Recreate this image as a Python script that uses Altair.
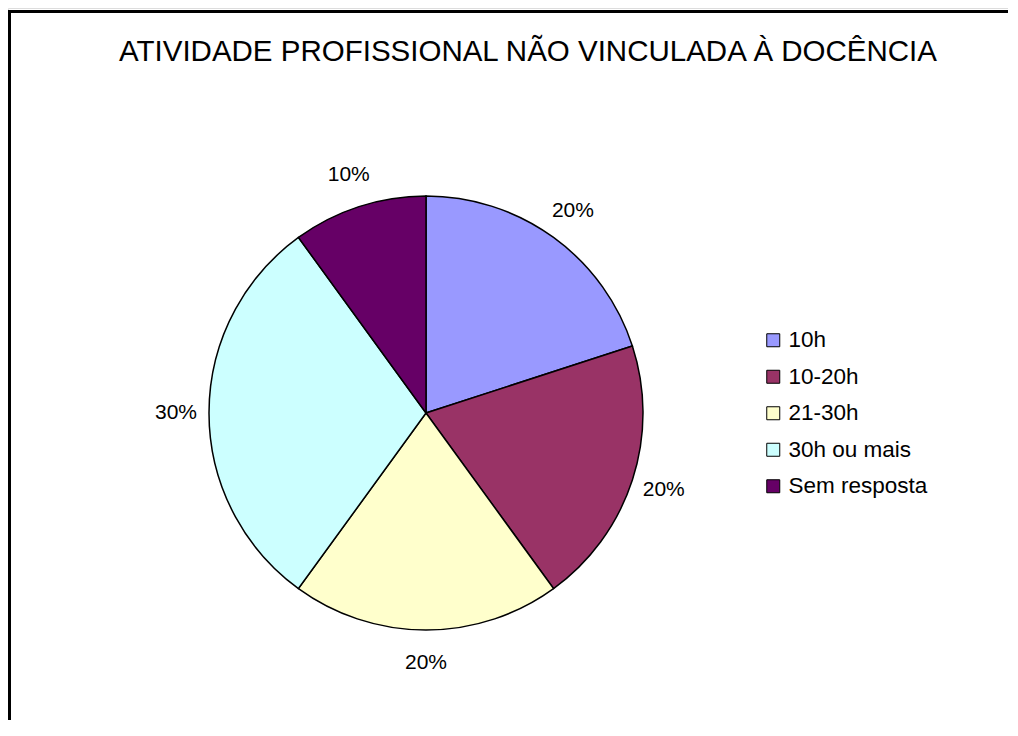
import altair as alt
import pandas as pd

categories = ["10h", "10-20h", "21-30h", "30h ou mais", "Sem resposta"]
values = [20, 20, 20, 30, 10]
colors = ["#9999FF", "#993366", "#FFFFCC", "#CCFFFF", "#660066"]
title_text = "ATIVIDADE PROFISSIONAL NÃO VINCULADA À DOCÊNCIA"

df = pd.DataFrame({
    "cat": categories,
    "val": values,
    "idx": list(range(len(categories))),
    "label": [f"{v}%" for v in values],
})

W, H = 1000, 712
cx, cy = 418, 405
FONT = "Liberation Sans"

base = alt.Chart(df).encode(
    theta=alt.Theta("val:Q", stack=True),
    order=alt.Order("idx:Q", sort="ascending"),
)

pie = base.mark_arc(outerRadius=217, stroke="black", strokeWidth=1.5).encode(
    x=alt.value(cx),
    y=alt.value(cy),
    color=alt.Color(
        "cat:N",
        scale=alt.Scale(domain=categories, range=colors),
        sort=categories,
        legend=alt.Legend(
            title=None,
            orient="none",
            legendX=754,
            legendY=321,
            symbolType="square",
            symbolSize=169,
            symbolStrokeColor="black",
            symbolStrokeWidth=1,
            symbolOpacity=1,
            labelFontSize=22.5,
            labelFont=FONT,
            labelColor="black",
            rowPadding=13.5,
            labelOffset=4,
            padding=0,
        ),
    ),
)

labels = base.mark_text(radius=250, fontSize=21, font=FONT, color="black").encode(
    x=alt.value(cx),
    y=alt.value(cy),
    text="label:N",
)

one = pd.DataFrame({"t": [title_text]})
title = alt.Chart(one).mark_text(fontSize=29.5, font=FONT, color="black", baseline="middle").encode(
    x=alt.value(520), y=alt.value(44), text="t:N"
)
top_border = alt.Chart(one).mark_rule(color="black", strokeWidth=3).encode(
    x=alt.value(0), x2=alt.value(W), y=alt.value(3.5)
)
left_border = alt.Chart(one).mark_rule(color="black", strokeWidth=3).encode(
    x=alt.value(1.5), y=alt.value(2), y2=alt.value(H)
)

chart = alt.layer(pie, labels, title, top_border, left_border).properties(
    width=W, height=H, padding=0, autosize=alt.AutoSizeParams(type="none")
).configure_view(stroke=None).configure(background="white")

chart.save("out.html", embed_options={"renderer": "svg", "actions": False})
